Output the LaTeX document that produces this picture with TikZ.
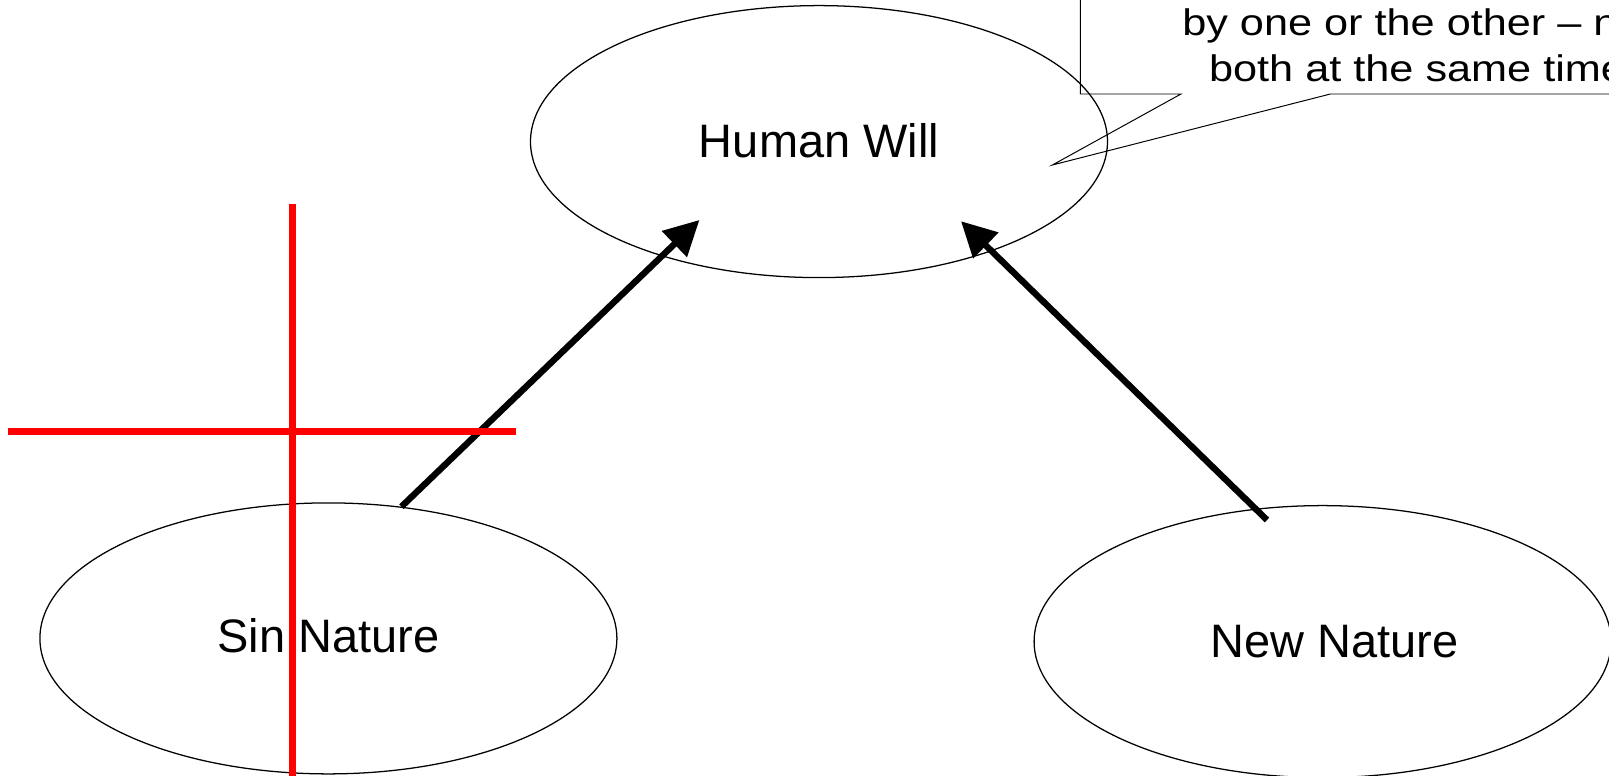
\documentclass[tikz,border=0pt]{standalone}
\usepackage{fontspec}
\setmainfont{Liberation Sans}
\newfontfamily\calloutfont[FakeStretch=1.17]{Liberation Sans}
\usepackage{tikz}
\usetikzlibrary{positioning,shapes,arrows.meta,calc}
\tikzstyle{nature} = [ellipse, draw, line width=0.9pt, inner sep=0pt, %
   minimum width=14.425cm, minimum height=6.8cm, %
   font=\fontsize{33.4pt}{40pt}\selectfont]
\tikzstyle{calltext} = [inner sep=0pt, anchor=base west, %
   font=\calloutfont\fontsize{26.3pt}{32pt}\selectfont]
\tikzstyle{callbox} = [draw, line width=0.7pt, line join=miter]
\tikzstyle{line} = [draw, line width=0.16cm, -{Triangle[length=0.87cm,width=0.87cm]}]
\tikzstyle{cross} = [draw, red, line width=0.175cm]

\begin{document}
\begin{tikzpicture}
   \useasboundingbox (0,0) rectangle (40.225,-19.4);
   \clip (0,0) rectangle (40.225,-19.4);

   % Ellipses %%%%%%%%%%%%%%%%%%%%%%%%%%%%%%%%%%%%%%%%%%%%%%%%%%%%%%
      \node[nature](will) at (20.475,-3.54){\raisebox{0.08cm}{Human Will}};

      \node[nature, below of = will, node distance=12.42cm, xshift=-12.265cm, %
         minimum height=6.775cm](sin){\raisebox{0.15cm}{Sin Nature}};

      \node[nature, below of = will, node distance=12.5cm, xshift=12.59cm](new){%
         \hspace*{0.6cm}New Nature};

   % Callout %%%%%%%%%%%%%%%%%%%%%%%%%%%%%%%%%%%%%%%%%%%%%%%%%%%%%%%
      \node[calltext](callA) at (29.55,-0.9){by one or the other – n};
      \node[calltext](callB) at (30.22,-2.05){both at the same time};

      \coordinate (calltop) at (27.01,0.5);
      \coordinate (callcorner) at (27.01,-2.35);
      \coordinate (callout1) at (29.525,-2.35);
      \coordinate (calltip) at (26.31,-4.125);
      \coordinate (callout2) at (33.26,-2.35);
      \coordinate (callend) at (41,-2.35);
      \path [callbox] (calltop) -- (callcorner) -- (callout1) -- (calltip) %
         -- (callout2) -- (callend);

   % Arrows %%%%%%%%%%%%%%%%%%%%%%%%%%%%%%%%%%%%%%%%%%%%%%%%%%%%%%%%
      \coordinate (willtipA) at ([shift={(-2.99,-1.96)}]will.center);
      \coordinate (willtipB) at ([shift={(3.55,-1.99)}]will.center);
      \coordinate (newtail) at ([shift={(-1.39,3.04)}]new.center);

      \path [line] (sin.61.4) -- (willtipA);
      \path [line] (newtail) -- (willtipB);

   % Red cross %%%%%%%%%%%%%%%%%%%%%%%%%%%%%%%%%%%%%%%%%%%%%%%%%%%%%
      \coordinate (vtop) at (7.3175,-5.1);
      \coordinate (vbot) at (7.3175,-19.6);
      \coordinate (hleft) at (0.2125,-10.795);
      \coordinate (hright) at (12.89,-10.795);
      \path [cross] (vtop) -- (vbot);
      \path [cross] (hleft) -- (hright);

\end{tikzpicture}
\end{document}
